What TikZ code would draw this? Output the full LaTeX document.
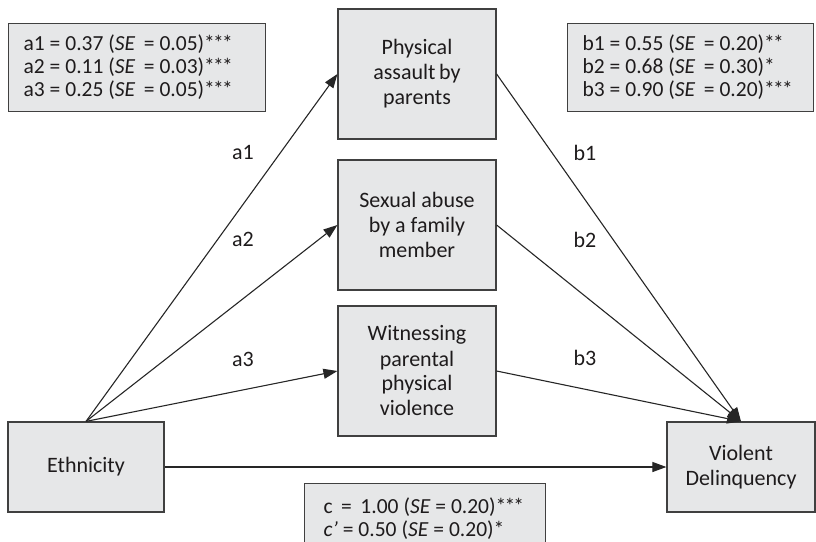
\documentclass[tikz,border=0pt]{standalone}
\usepackage{fontspec}
\setmainfont{Carlito}
\usetikzlibrary{arrows.meta}
\definecolor{boxfill}{RGB}{230,231,232}
\definecolor{boxline}{RGB}{64,64,64}
\definecolor{ink}{RGB}{30,27,28}
% significance stars, set tight
\newcommand{\sigstars}[1]{\ifcase#1\or*\or*\kern-1.8pt*\or*\kern-1.8pt*\kern-1.8pt*\fi}
\begin{document}
\begin{tikzpicture}[x=1pt,y=-1pt,
  every node/.style={text=ink, font=\fontsize{22}{25}\selectfont},
  var/.style={draw=boxline, fill=boxfill, line width=1.2pt, align=center, inner sep=0pt},
  param/.style={draw=boxline, fill=boxfill, line width=1.2pt, align=left, anchor=north west,
    inner ysep=0pt, font=\fontsize{21.5}{23}\selectfont,
    execute at begin node={\spaceskip=0.23em\relax}},
  effect/.style={draw=black!85, line width=1.1pt, -{Triangle[length=14pt,width=10pt]}},
  lab/.style={inner sep=0pt}]
\useasboundingbox (0,0) rectangle (816,541);

% mediators
\node[var, minimum width=158, minimum height=130] (m1) at (417,74) {Physical\\assault\,by\\parents};
\node[var, minimum width=158, minimum height=130] (m2) at (417,225) {Sexual abuse\\by a family\\member};
\node[var, minimum width=158, minimum height=130] (m3) at (417,371) {Witnessing\\parental\\physical\\violence};

% predictor and outcome
\node[var, minimum width=156, minimum height=90] (eth) at (86,467) {Ethnicity};
\node[var, minimum width=148, minimum height=90] (vd) at (741,467) {Violent\\Delinquency};

% coefficient boxes
\node[param, minimum height=88, text width=227, inner xsep=15] (pa) at (8,23)
  {\mbox{a1 = 0.37 (\textit{SE}\, = 0.05)\sigstars3}\\\mbox{a2 = 0.11 (\textit{SE}\, = 0.03)\sigstars3}\\\mbox{a3 = 0.25 (\textit{SE}\, = 0.05)\sigstars3}};
\node[param, minimum height=88, text width=216, inner xsep=15] (pb) at (567,23)
  {\mbox{b1 = 0.55 (\textit{SE}\, = 0.20)\sigstars2}\\\mbox{b2 = 0.68 (\textit{SE}\, = 0.30)\sigstars1}\\\mbox{b3 = 0.90 (\textit{SE}\, = 0.20)\sigstars3}};
\node[param, minimum height=71, text width=203, inner xsep=19] (pc) at (304,483)
  {\mbox{c\, =\, 1.00 (\textit{SE} = 0.20)\sigstars3}\\\mbox{\textit{c’} = 0.50 (\textit{SE} = 0.20)\sigstars1}};

% paths
\draw[effect] (eth.north) -- (m1.west);
\draw[effect] (eth.north) -- (m2.west);
\draw[effect] (eth.north) -- (m3.west);
\draw[effect] (m1.east) -- (vd.north);
\draw[effect] (m2.east) -- (vd.north);
\draw[effect] (m3.east) -- (vd.north);
\draw[effect] (eth.east) -- (vd.west);

% path labels
\node[lab] (la1) at (243,152) {a1};
\node[lab] (la2) at (243,239) {a2};
\node[lab] (la3) at (243,359) {a3};
\node[lab] (lb1) at (585,153) {b1};
\node[lab] (lb2) at (585,240) {b2};
\node[lab] (lb3) at (585,358) {b3};
\end{tikzpicture}
\end{document}
